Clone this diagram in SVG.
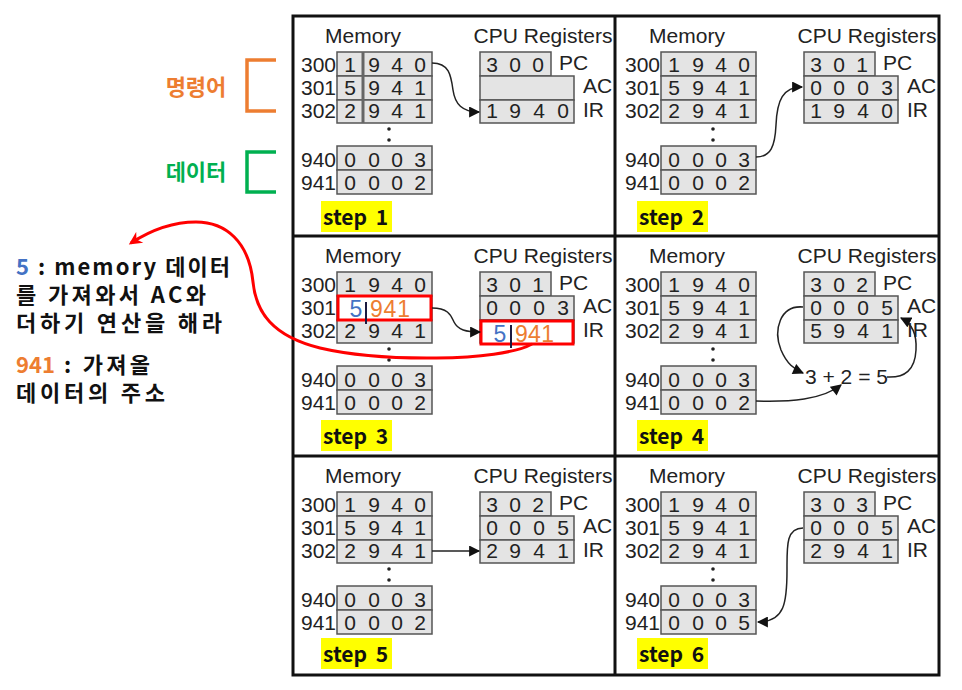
<svg xmlns="http://www.w3.org/2000/svg" xmlns:xlink="http://www.w3.org/1999/xlink" width="962" height="690" viewBox="0 0 962 690">
<style>
  .t { font-family: "Liberation Sans", Arial, sans-serif; font-size: 21px; fill: #222; }
  .d { font-family: "Liberation Sans", Arial, sans-serif; font-size: 21px; fill: #222; text-anchor: middle; }
  .cell { fill: #e4e4e4; stroke: #555; stroke-width: 1.5; }
  .frame { fill: none; stroke: #111; stroke-width: 3; }
  .step { fill: #ffff00; }
  .stept { font-family: "Noto Sans CJK KR", "Liberation Sans", sans-serif; font-size: 21px; font-weight: bold; fill: #111; }
  .ko { font-family: "Noto Sans CJK KR", "Liberation Sans", sans-serif; font-weight: bold; fill: #111; font-size: 22px; }
  .conn { fill: none; stroke: #222; stroke-width: 1.5; }
  .red { fill: #fff; stroke: #ff0000; stroke-width: 3; }
  .blue { fill: #4472C4; }
  .orange { fill: #ED7D31; }
  .big { font-family: "Liberation Sans", Arial, sans-serif; font-size: 23px; }
</style>
<defs>
  <marker id="ah" viewBox="0 0 10 10" refX="9" refY="5" markerWidth="12" markerHeight="11" markerUnits="userSpaceOnUse" orient="auto">
    <path d="M0,0 L10,5 L0,10 z" fill="#111"/>
  </marker>
  <marker id="ahr" viewBox="0 0 10 10" refX="8" refY="5" markerWidth="14" markerHeight="13" markerUnits="userSpaceOnUse" orient="auto">
    <path d="M0,0 L10,5 L0,10 L3,5 z" fill="#ff0000"/>
  </marker>
  <g id="base">
    <text class="t" x="363" y="43" text-anchor="middle">Memory</text>
    <text class="t" x="543" y="43" text-anchor="middle">CPU Registers</text>
    <rect class="cell" x="337" y="52" width="95" height="24"/>
    <rect class="cell" x="337" y="76" width="95" height="24"/>
    <rect class="cell" x="337" y="100" width="95" height="23"/>
    <rect class="cell" x="337" y="146" width="95" height="24"/>
    <rect class="cell" x="337" y="170" width="95" height="24"/>
    <text class="t" x="336" y="72" text-anchor="end">300</text>
    <text class="t" x="336" y="95" text-anchor="end">301</text>
    <text class="t" x="336" y="118" text-anchor="end">302</text>
    <text class="t" x="336" y="167" text-anchor="end">940</text>
    <text class="t" x="336" y="190" text-anchor="end">941</text>
    <circle cx="389" cy="129" r="1.8" fill="#222"/>
    <circle cx="389" cy="140" r="1.8" fill="#222"/>
    <rect class="cell" x="480" y="52" width="71" height="24"/>
    <rect class="cell" x="480" y="76" width="94" height="24"/>
    <rect class="cell" x="480" y="100" width="94" height="23"/>
    <text class="t" x="559" y="70">PC</text>
    <text class="t" x="583" y="93">AC</text>
    <text class="t" x="583" y="117">IR</text>
  </g>
</defs>
<rect width="962" height="690" fill="#fff"/>

<!-- frame -->
<g id="grid">
  <rect class="frame" x="293" y="16" width="646" height="659"/>
  <line class="frame" x1="615" y1="16" x2="615" y2="675"/>
  <line class="frame" x1="293" y1="236" x2="939" y2="236"/>
  <line class="frame" x1="293" y1="456" x2="939" y2="456"/>
</g>

<!-- step 1 -->
<g id="step1">
  <use xlink:href="#base"/>
  <line x1="363" y1="52" x2="363" y2="123" stroke="#666" stroke-width="3"/>
  <text class="d" x="350 374 397 420" y="72">1940</text>
  <text class="d" x="350 374 397 420" y="95">5941</text>
  <text class="d" x="350 374 397 420" y="118">2941</text>
  <text class="d" x="350 374 397 420" y="167">0003</text>
  <text class="d" x="350 374 397 420" y="190">0002</text>
  <text class="d" x="492 515 538" y="72">300</text>
  <text class="d" x="492 515 539 563" y="118">1940</text>
  <rect class="step" x="321" y="201" width="71" height="31"/>
  <text class="stept" x="323" y="225" word-spacing="4">step 1</text>
</g>

<!-- step 2 -->
<g id="step2" transform="translate(324,0)">
  <use xlink:href="#base"/>
  <text class="d" x="350 374 397 420" y="72">1940</text>
  <text class="d" x="350 374 397 420" y="95">5941</text>
  <text class="d" x="350 374 397 420" y="118">2941</text>
  <text class="d" x="350 374 397 420" y="167">0003</text>
  <text class="d" x="350 374 397 420" y="190">0002</text>
  <text class="d" x="492 515 538" y="72">301</text>
  <text class="d" x="492 515 539 563" y="95">0003</text>
  <text class="d" x="492 515 539 563" y="118">1940</text>
</g>
<g id="label2">
  <rect class="step" x="637" y="201" width="71" height="31"/>
  <text class="stept" x="639" y="225" word-spacing="4">step 2</text>
</g>

<!-- step 3 -->
<g id="step3" transform="translate(0,220)">
  <use xlink:href="#base"/>
  <text class="d" x="350 374 397 420" y="72">1940</text>
  <text class="d" x="350 374 397 420" y="118">2941</text>
  <text class="d" x="350 374 397 420" y="167">0003</text>
  <text class="d" x="350 374 397 420" y="190">0002</text>
  <text class="d" x="492 515 538" y="72">301</text>
  <text class="d" x="492 515 539 563" y="95">0003</text>
  <rect class="red" x="338" y="76" width="93" height="24"/>
  <text class="big blue" x="356" y="97" text-anchor="middle">5</text>
  <line x1="366" y1="82" x2="366" y2="104" stroke="#1a1a40" stroke-width="2"/>
  <text class="big orange" x="370" y="97" textLength="40" lengthAdjust="spacing">941</text>
  <rect class="red" x="481" y="101" width="92" height="23"/>
  <text class="big blue" x="500" y="122" text-anchor="middle">5</text>
  <line x1="511" y1="105" x2="511" y2="128" stroke="#1a1a40" stroke-width="2"/>
  <text class="big orange" x="515" y="122" textLength="39" lengthAdjust="spacing">941</text>
  <rect class="step" x="321" y="200" width="71" height="31"/>
  <text class="stept" x="323" y="224" word-spacing="4">step 3</text>
</g>

<!-- step 4 -->
<g id="step4" transform="translate(324,220)">
  <use xlink:href="#base"/>
  <text class="d" x="350 374 397 420" y="72">1940</text>
  <text class="d" x="350 374 397 420" y="95">5941</text>
  <text class="d" x="350 374 397 420" y="118">2941</text>
  <text class="d" x="350 374 397 420" y="167">0003</text>
  <text class="d" x="350 374 397 420" y="190">0002</text>
  <text class="d" x="492 515 538" y="72">302</text>
  <text class="d" x="492 515 539 563" y="95">0005</text>
  <text class="d" x="492 515 539 563" y="118">5941</text>
  <text class="t" x="481" y="164">3 + 2 = 5</text>
</g>
<g id="label4">
  <rect class="step" x="637" y="420" width="71" height="31"/>
  <text class="stept" x="639" y="444" word-spacing="4">step 4</text>
</g>

<!-- step 5 -->
<g id="step5" transform="translate(0,440)">
  <use xlink:href="#base"/>
  <text class="d" x="350 374 397 420" y="72">1940</text>
  <text class="d" x="350 374 397 420" y="95">5941</text>
  <text class="d" x="350 374 397 420" y="118">2941</text>
  <text class="d" x="350 374 397 420" y="167">0003</text>
  <text class="d" x="350 374 397 420" y="190">0002</text>
  <text class="d" x="492 515 538" y="72">302</text>
  <text class="d" x="492 515 539 563" y="95">0005</text>
  <text class="d" x="492 515 539 563" y="118">2941</text>
  <rect class="step" x="321" y="198" width="71" height="31"/>
  <text class="stept" x="323" y="222" word-spacing="4">step 5</text>
</g>

<!-- step 6 -->
<g id="step6" transform="translate(324,440)">
  <use xlink:href="#base"/>
  <text class="d" x="350 374 397 420" y="72">1940</text>
  <text class="d" x="350 374 397 420" y="95">5941</text>
  <text class="d" x="350 374 397 420" y="118">2941</text>
  <text class="d" x="350 374 397 420" y="167">0003</text>
  <text class="d" x="350 374 397 420" y="190">0005</text>
  <text class="d" x="492 515 538" y="72">303</text>
  <text class="d" x="492 515 539 563" y="95">0005</text>
  <text class="d" x="492 515 539 563" y="118">2941</text>
</g>
<g id="label6">
  <rect class="step" x="637" y="638" width="71" height="31"/>
  <text class="stept" x="639" y="662" word-spacing="4">step 6</text>
</g>

<!-- connectors -->
<g id="connectors">
  <path class="conn" marker-end="url(#ah)" d="M432 63 C449 63 451 75 453 90 C455 104 462 112 479 112"/>
  <path class="conn" marker-end="url(#ah)" d="M756 157 C771 157 775 146 776 125 C777 100 783 87 802 87"/>
  <path class="conn" marker-end="url(#ah)" d="M432 308 C449 308 451 316 454 322 C458 330 466 332 480 332"/>
  <path class="conn" marker-end="url(#ah)" d="M803 307 C780 305 773 330 781 350 C787 364 794 369 803 373"/>
  <path class="conn" marker-end="url(#ah)" d="M887 377 C905 378 915 370 916 350 C917 334 911 323 901 318"/>
  <path class="conn" marker-end="url(#ah)" d="M756 401 C790 402 822 400 841 385"/>
  <path class="conn" marker-end="url(#ah)" d="M432 551 L479 551"/>
  <path class="conn" marker-end="url(#ah)" d="M803 528 C786 528 787 546 787 570 C787 602 785 622 758 622"/>
  <path fill="none" stroke="#ff0000" stroke-width="3" marker-end="url(#ahr)" d="M532 344 C500 362 380 362 320 348 C272 336 256 312 253 282 C249 242 226 222 196 222 C170 222 148 232 131 243"/>
</g>

<!-- annotations -->
<g id="annot-inst">
  <text class="ko" x="196" y="95" style="fill:#ED7D31" text-anchor="middle">명령어</text>
  <path d="M276 60 H247 V111 H276" fill="none" stroke="#ED7D31" stroke-width="3.5"/>
</g>
<g id="annot-data">
  <text class="ko" x="196" y="180" style="fill:#00B050" text-anchor="middle">데이터</text>
  <path d="M276 152 H247 V192 H276" fill="none" stroke="#00B050" stroke-width="3.5"/>
</g>
<g id="annot-text">
  <text class="ko" x="16" y="275" style="fill:#4472C4">5</text>
  <text class="ko" x="38" y="275" textLength="192" lengthAdjust="spacing">: memory 데이터</text>
  <text class="ko" x="16" y="303" textLength="190" lengthAdjust="spacing">를 가져와서 AC와</text>
  <text class="ko" x="16" y="331" textLength="206" lengthAdjust="spacing">더하기 연산을 해라</text>
  <text class="ko" x="16" y="373" style="fill:#ED7D31">941</text>
  <text class="ko" x="64" y="373" textLength="86" lengthAdjust="spacing">: 가져올</text>
  <text class="ko" x="16" y="401" textLength="149" lengthAdjust="spacing">데이터의 주소</text>
</g>
</svg>
